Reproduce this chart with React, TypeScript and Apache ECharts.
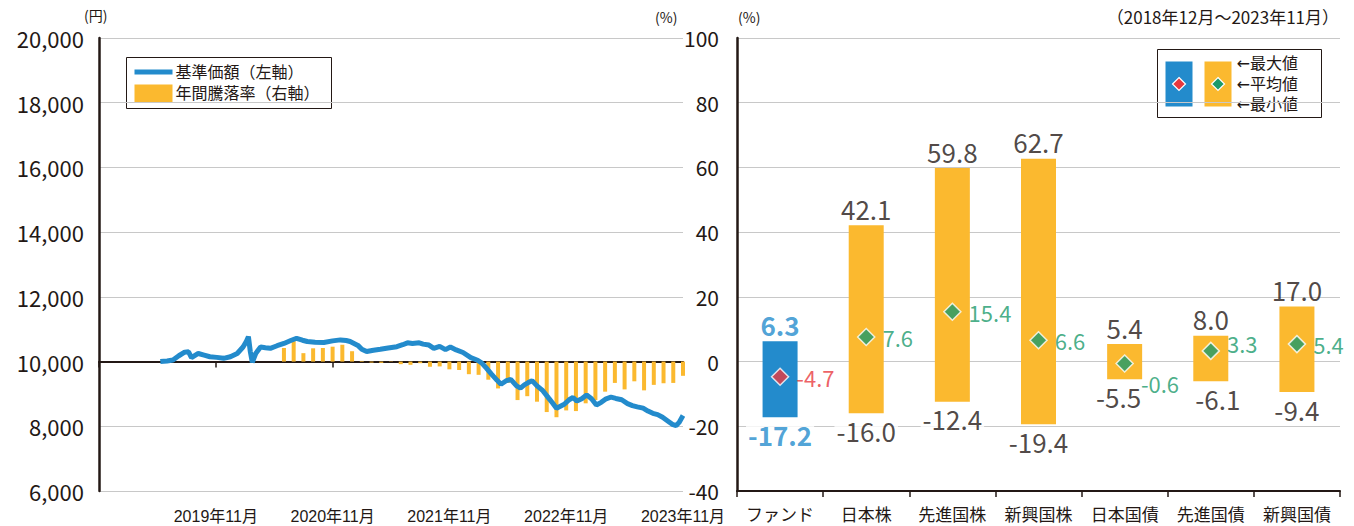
import React, { useEffect, useRef } from "react";
import * as echarts from "echarts";

// ---------- Left chart data ----------
// x = months since end of Nov 2018
const navMonthIdx = [
  6.3, 7.0, 7.6, 8.2, 8.8, 9.2, 9.5, 10.2, 10.8, 11.4, 12.1, 12.8, 13.5, 14.2, 14.8, 15.1, 15.35, 15.55, 15.75,
  16.1, 16.6, 17.1, 17.6, 18.3, 19.0, 19.7, 20.3, 20.9, 21.4, 22.2, 23.1, 24.0, 24.8, 25.4, 25.8, 26.2, 26.6,
  27.0, 27.5, 28.2, 28.9, 29.7, 30.6, 31.2, 31.7, 32.2, 32.9, 33.3, 33.9, 34.4, 35.0, 35.6, 36.1, 36.7, 37.4,
  38.2, 38.9, 39.3, 39.8, 40.3, 40.9, 41.3, 41.8, 42.3, 42.9, 43.3, 43.7, 44.1, 44.5, 45.0, 45.6, 46.2, 46.6,
  47.0, 47.4, 47.8, 48.3, 48.7, 49.1, 49.6, 50.1, 50.6, 51.1, 51.6, 52.1, 52.6, 53.1, 53.7, 54.3, 54.8, 55.3,
  55.9, 56.4, 56.9, 57.4, 57.9, 58.5, 58.9, 59.3, 59.6, 60.0,
];
const navValues = [
  10000, 10020, 10050, 10180, 10290, 10300, 10120, 10250, 10200, 10150, 10130, 10100, 10150, 10250, 10450, 10600, 10770, 10300, 9980,
  10250, 10450, 10430, 10410, 10490, 10560, 10650, 10720, 10660, 10620, 10600, 10590, 10640, 10670, 10650, 10620, 10560, 10500,
  10380, 10310, 10350, 10380, 10420, 10460, 10520, 10580, 10560, 10580, 10540, 10510, 10410, 10470, 10370, 10450, 10360, 10280,
  10120, 10040, 9960, 9800, 9620, 9420, 9300, 9400, 9450, 9250, 9180, 9280, 9350, 9410, 9250, 9100, 8870, 8720,
  8560, 8620, 8680, 8820, 8890, 8780, 8850, 8970, 8850, 8660, 8740, 8850, 8900, 8860, 8820, 8700, 8640, 8600,
  8560, 8470, 8400, 8360, 8280, 8150, 8060, 8020, 8120, 8330,
];
const barMonthIdx = [
  19, 20, 21, 22, 23, 24, 25, 26, 27, 28, 29, 30, 31, 32, 33, 34, 35, 36, 37, 38, 39,
  40, 41, 42, 43, 44, 45, 46, 47, 48, 49, 50, 51, 52, 53, 54, 55, 56, 57, 58, 59, 60,
];
const barValues = [
  4.2, 6.3, 2.6, 4.1, 4.2, 4.6, 5.2, 3.2, 0.2, -0.3, -0.4, 0.1, -0.8, -1.0, -0.5, -1.6, -1.5, -2.4, -2.6, -3.9, -4.1,
  -5.6, -8.3, -6.6, -11.9, -10.7, -12.4, -15.6, -17.2, -15.1, -15.3, -12.9, -11.9, -9.3, -6.6, -8.6, -6.1, -8.9, -7.2, -6.7, -6.6, -4.4,
];
const xTickLabels = ["", "2019年11月", "2020年11月", "2021年11月", "2022年11月", "2023年11月"];

// ---------- Right chart data ----------
const categories = ["ファンド", "日本株", "先進国株", "新興国株", "日本国債", "先進国債", "新興国債"];
const maxVals = [6.3, 42.1, 59.8, 62.7, 5.4, 8.0, 17.0];
const avgVals = [-4.7, 7.6, 15.4, 6.6, -0.6, 3.3, 5.4];
const minVals = [-17.2, -16.0, -12.4, -19.4, -5.5, -6.1, -9.4];

const FONT = "'Noto Sans CJK JP', 'Noto Sans', sans-serif";
const TIGHT = "'Liberation Sans', 'Noto Sans CJK JP', sans-serif";
const ARROWFONT = "'DejaVu Sans', 'Noto Sans CJK JP', sans-serif";
const INK = "#231815";
const BLUE = "#238bcc";
const YELLOW = "#fbb92f";
const GREEN = "#1b9a6b";
const RED = "#e8383d";
const GRIDC = "#c8c8c8";

const minOffsets: Record<number, number[]> = { 4: [-6, 0], 5: [7, 0] };
const avgOffsets: Record<number, number[]> = { 4: [0, 19], 5: [0, -8] };

export default function App() {
  const ref = useRef<HTMLDivElement>(null);
  useEffect(() => {
    if (!ref.current) return;
    const chart = echarts.init(ref.current, undefined, { renderer: "svg" });
    const legendText = (x: number, y: number, text: string, size: number, fam: string) => ({
      type: "text", x, y,
      style: { text, font: `${size}px ${fam}`, fill: INK, verticalAlign: "middle", lineHeight: size },
    });
    const option: any = {
      animation: false,
      textStyle: { fontFamily: FONT, color: INK },
      grid: [
        { left: 99, top: 38, width: 584, height: 453 },
        { left: 737, top: 38, width: 603, height: 453 },
      ],
      xAxis: [
        {
          type: "value", gridIndex: 0, min: 0, max: 60, interval: 12,
          axisLine: { show: false }, axisTick: { show: false }, splitLine: { show: false },
          axisLabel: {
            fontSize: 16, lineHeight: 16, margin: 17, color: INK, fontFamily: TIGHT,
            formatter: (v: number) => xTickLabels[Math.round(v / 12)] || "",
          },
        },
        {
          type: "value", gridIndex: 0, min: 0, max: 60, interval: 12, position: "bottom",
          axisLine: { show: true, onZero: true, onZeroAxisIndex: 1, lineStyle: { color: INK, width: 2 } },
          axisTick: { show: true, length: 6, lineStyle: { color: INK, width: 1.5 } },
          axisLabel: { show: false }, splitLine: { show: false },
        },
        {
          type: "category", gridIndex: 1, data: categories,
          axisLine: { show: false }, axisTick: { show: false },
          axisLabel: { fontSize: 17, lineHeight: 17, margin: 14, color: INK, fontFamily: FONT, interval: 0 },
        },
        {
          type: "category", gridIndex: 1, data: categories, position: "bottom",
          axisLine: { show: true, onZero: true, lineStyle: { color: INK, width: 2 } },
          axisTick: { show: true, length: 6, lineStyle: { color: INK, width: 1.5 } },
          axisLabel: { show: false },
        },
      ],
      yAxis: [
        {
          type: "value", gridIndex: 0, min: 6000, max: 20000, interval: 2000,
          axisLine: { show: true, onZero: false, lineStyle: { color: INK, width: 2.5 } },
          axisTick: { show: false },
          axisLabel: { fontSize: 22, margin: 15, color: INK, fontFamily: FONT },
          splitLine: { show: true, lineStyle: { color: GRIDC, width: 1 } },
        },
        {
          type: "value", gridIndex: 0, min: -40, max: 100, interval: 20, position: "right",
          axisLine: { show: false, onZero: false }, axisTick: { show: false },
          axisLabel: { show: false }, splitLine: { show: false },
        },
        {
          type: "value", gridIndex: 1, min: -40, max: 100, interval: 20,
          axisLine: { show: true, onZero: false, lineStyle: { color: INK, width: 2.5 } },
          axisTick: { show: false },
          axisLabel: { fontSize: 21, margin: 18, color: INK, fontFamily: FONT },
          splitLine: { show: true, lineStyle: { color: GRIDC, width: 1 } },
        },
      ],
      series: [
        {
          name: "年間騰落率", type: "bar", xAxisIndex: 0, yAxisIndex: 1,
          data: barMonthIdx.map((m, i) => [m, barValues[i]]),
          barWidth: 4, itemStyle: { color: YELLOW }, z: 2,
        },
        {
          name: "基準価額", type: "line", xAxisIndex: 0, yAxisIndex: 0,
          data: navMonthIdx.map((m, i) => [m, navValues[i]]),
          symbol: "none", lineStyle: { color: BLUE, width: 5 }, z: 3,
        },
        {
          name: "base", type: "bar", xAxisIndex: 2, yAxisIndex: 2, stack: "range", stackStrategy: "all",
          data: minVals, barWidth: 35, itemStyle: { color: "transparent" }, silent: true, z: 2,
        },
        {
          name: "range", type: "bar", xAxisIndex: 2, yAxisIndex: 2, stack: "range", stackStrategy: "all",
          barWidth: 35, z: 2,
          data: maxVals.map((mx, i) => ({
            value: mx - minVals[i],
            itemStyle: { color: i === 0 ? BLUE : YELLOW },
          })),
        },
        {
          name: "maxLabel", type: "scatter", xAxisIndex: 2, yAxisIndex: 2, symbolSize: 0.1,
          itemStyle: { color: "transparent" }, silent: true, z: 4,
          data: maxVals.map((v, i) => ({
            value: v,
            label: {
              show: true, position: "top", distance: 4, fontFamily: FONT, fontSize: 26,
              color: i === 0 ? BLUE : INK, fontWeight: i === 0 ? "bold" : "normal",
              formatter: () => v.toFixed(1),
            },
          })),
        },
        {
          name: "minLabel", type: "scatter", xAxisIndex: 2, yAxisIndex: 2, symbolSize: 0.1,
          itemStyle: { color: "transparent" }, silent: true, z: 4,
          data: minVals.map((v, i) => ({
            value: v,
            label: {
              show: true, position: "bottom", distance: 4, fontFamily: FONT, fontSize: 26,
              color: i === 0 ? BLUE : INK, fontWeight: i === 0 ? "bold" : "normal",
              backgroundColor: "#fff", padding: [0, 2],
              offset: minOffsets[i] || [0, 0],
              formatter: () => v.toFixed(1),
            },
          })),
        },
        {
          name: "avg", type: "scatter", xAxisIndex: 2, yAxisIndex: 2, symbol: "diamond", symbolSize: 17, z: 5,
          data: avgVals.map((v, i) => ({
            value: v,
            itemStyle: { color: i === 0 ? RED : GREEN, borderColor: "#fff", borderWidth: 1.5 },
            label: {
              show: true, position: "right", distance: 7, fontFamily: FONT, fontSize: 22,
              color: i === 0 ? RED : GREEN, offset: avgOffsets[i] || [0, 0],
              formatter: () => v.toFixed(1),
            },
          })),
        },
      ],
      graphic: [
        // units & period
        { type: "text", left: 84, top: 8, style: { text: "(円)", font: `14px ${FONT}`, fill: INK } },
        { type: "text", left: 655, top: 10, style: { text: "(%)", font: `14px ${FONT}`, fill: INK } },
        { type: "text", left: 738, top: 10, style: { text: "(%)", font: `14px ${FONT}`, fill: INK } },
        {
          type: "text", right: 15, top: 8,
          style: { text: "（2018年12月～2023年11月）", font: `17px ${FONT}`, fill: INK },
        },
        // left legend
        {
          type: "group", left: 126, top: 57,
          children: [
            { type: "rect", shape: { x: 0, y: 0, width: 205, height: 51 }, style: { fill: "#fff", stroke: INK, lineWidth: 1 } },
            { type: "rect", shape: { x: 8, y: 12, width: 38, height: 5 }, style: { fill: BLUE } },
            { type: "rect", shape: { x: 8, y: 27, width: 38, height: 18 }, style: { fill: YELLOW } },
            legendText(49, 15, "基準価額（左軸）", 16, TIGHT),
            legendText(49, 36, "年間騰落率（右軸）", 16, TIGHT),
          ],
        },
        // right legend
        {
          type: "group", left: 1157, top: 49,
          children: [
            { type: "rect", shape: { x: 0, y: 0, width: 164, height: 68 }, style: { fill: "#fff", stroke: INK, lineWidth: 1 } },
            { type: "rect", shape: { x: 8, y: 12, width: 27, height: 45 }, style: { fill: BLUE } },
            { type: "rect", shape: { x: 47, y: 12, width: 27, height: 45 }, style: { fill: YELLOW } },
            { type: "polygon", shape: { points: [[21.5, 28], [28, 34.5], [21.5, 41], [15, 34.5]] }, style: { fill: RED, stroke: "#fff", lineWidth: 1.2 } },
            { type: "polygon", shape: { points: [[60.5, 28], [67, 34.5], [60.5, 41], [54, 34.5]] }, style: { fill: GREEN, stroke: "#fff", lineWidth: 1.2 } },
            legendText(79, 14, "←最大値", 16, ARROWFONT),
            legendText(79, 34.5, "←平均値", 16, ARROWFONT),
            legendText(79, 55, "←最小値", 16, ARROWFONT),
          ],
        },
      ],
    };
    chart.setOption(option);
    return () => chart.dispose();
  }, []);
  return (
    <div
      ref={ref}
      style={{ position: "absolute", left: 0, top: 0, width: 1354, height: 526, background: "#fff" }}
    />
  );
}
